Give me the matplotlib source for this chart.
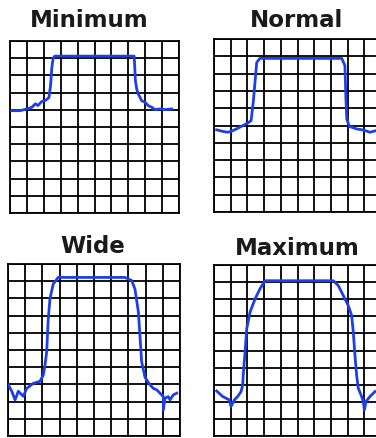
import numpy as np
import matplotlib
matplotlib.use("Agg")
from matplotlib import pyplot as plt

# Bandwidth settings, traces (x and y in grid divisions)
titles = ["Minimum", "Normal", "Wide", "Maximum"]

min_x = [0.1, 0.6, 1.0, 1.3, 1.5, 1.65, 1.9, 2.1, 2.3, 2.4, 2.47, 2.55, 2.65,
         7.35, 7.38, 7.42, 7.5, 7.59, 7.69, 7.79, 7.99, 8.18, 8.38, 8.58, 8.88, 9.17, 9.57]
min_y = [5.95, 5.95, 6.05, 6.15, 6.35, 6.25, 6.5, 6.55, 6.7, 7.4, 8.4, 9.0, 9.12,
         9.12, 8.5, 7.7, 7.2, 6.92, 6.73, 6.53, 6.44, 6.24, 6.15, 6.01, 6.05, 6.01, 6.05]

norm_x = [0.16, 0.52, 0.82, 1.12, 1.42, 1.72, 2.02, 2.22, 2.28, 2.35, 2.5, 2.56, 2.75,
          7.65, 7.84, 7.9, 7.95, 8.1, 8.54, 8.94, 9.34, 9.7]
norm_y = [4.75, 4.66, 4.61, 4.70, 4.84, 4.99, 5.14, 5.28, 5.76, 6.34, 8.0, 8.65, 8.88,
          8.88, 8.46, 6.53, 5.38, 4.95, 4.8, 4.74, 4.61, 4.7]

wide_x = [0.02, 0.22, 0.41, 0.60, 0.89, 1.09, 1.47, 1.86, 2.05, 2.15, 2.25, 2.34, 2.44,
          2.63, 2.92, 6.80, 7.19, 7.38, 7.58, 7.67, 7.77, 7.97, 8.26, 8.45, 8.65, 8.84,
          9.03, 9.03, 9.13, 9.32, 9.42, 9.61, 9.81]
wide_y = [2.97, 2.60, 2.10, 2.60, 2.31, 2.77, 3.06, 3.18, 3.54, 4.12, 4.91, 6.82, 7.98,
          8.84, 9.22, 9.22, 9.04, 8.55, 7.21, 5.86, 4.32, 3.4, 2.97, 2.77, 2.68, 2.49,
          2.29, 1.52, 2.20, 2.29, 2.10, 2.39, 2.49]

max_x = [0.16, 0.52, 0.72, 0.92, 1.02, 1.22, 1.42, 1.62, 1.72, 1.75, 1.86, 1.96, 2.16,
         2.46, 2.75, 3.05, 7.14, 7.44, 7.74, 8.04, 8.24, 8.34, 8.44, 8.54, 8.64, 8.84,
         8.94, 9.0, 9.10, 9.34, 9.64]
max_y = [2.63, 2.31, 2.21, 2.11, 1.73, 2.11, 2.31, 2.60, 2.98, 3.56, 4.92, 6.28, 7.25,
         8.02, 8.60, 9.08, 9.08, 8.80, 8.22, 7.63, 7.05, 6.09, 4.73, 3.56, 2.79, 2.31,
         2.02, 1.53, 2.02, 2.31, 2.60]

traces = [(min_x, min_y), (norm_x, norm_y), (wide_x, wide_y), (max_x, max_y)]

W, H = 376, 439
fig = plt.figure(figsize=(W / 100, H / 100), dpi=100)

# panel boxes in pixels: left, top, right, bottom
boxes = [(10, 42, 179, 214), (214, 40, 381, 213), (8, 265, 180, 437), (214, 266, 381, 437)]
# title centre x and baseline y in pixels
title_pos = [(89, 27), (296, 27), (93, 253), (297, 255)]

for (l, t, r, b), (tx, ty), name, (xs, ys) in zip(boxes, title_pos, titles, traces):
    ax = fig.add_axes([l / W, 1 - b / H, (r - l) / W, (b - t) / H])
    ax.set_xlim(0, 10)
    ax.set_ylim(0, 10)
    ax.set_xticks(np.arange(0, 11))
    ax.set_yticks(np.arange(0, 11))
    ax.grid(True, color="black", linewidth=1.3)
    ax.tick_params(length=0, labelbottom=False, labelleft=False)
    for s in ax.spines.values():
        s.set_linewidth(1.3)
        s.set_color("black")
    ax.plot(xs, ys, color="#1f3fe6", linewidth=2.0, solid_joinstyle="round", zorder=3)
    fig.text(tx / W, 1 - ty / H, name, ha="center", va="baseline",
             fontsize=16.5, fontweight="bold", color="#1a1a1a")

fig.savefig("out.png", dpi=100)
